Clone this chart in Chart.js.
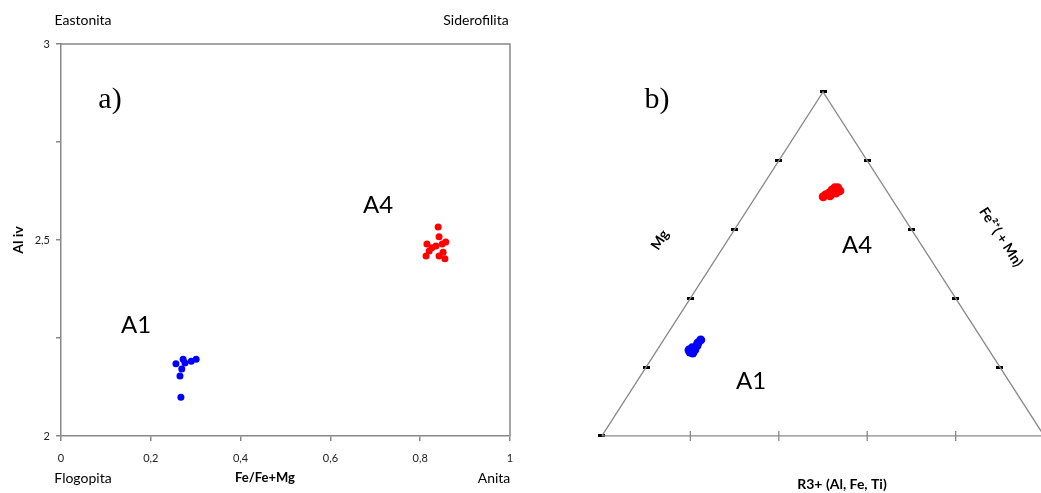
<!DOCTYPE html>
<html>
<head>
<meta charset="utf-8">
<script src="https://cdn.jsdelivr.net/npm/chart.js@4.4.1/dist/chart.umd.min.js"></script>
<style>
  html, body { margin: 0; padding: 0; background: #fff; }
  #wrap { position: relative; width: 1041px; height: 493px; overflow: hidden; }
  canvas { position: absolute; top: 0; }
  #chartA { left: 0; }
  #chartB { left: 540px; }
</style>
</head>
<body>
<div id="wrap">
  <canvas id="chartA" width="540" height="493"></canvas>
  <canvas id="chartB" width="501" height="493"></canvas>
</div>
<script>
// a) Al iv against Fe/(Fe+Mg)
const a1FeRatio = [0.256, 0.272, 0.276, 0.269, 0.265, 0.290, 0.301, 0.267];
const a1AlIv    = [2.184, 2.196, 2.186, 2.171, 2.153, 2.191, 2.196, 2.099];
const a4FeRatio = [0.840, 0.842, 0.815, 0.813, 0.826, 0.849, 0.857, 0.851, 0.855, 0.842, 0.820, 0.835];
const a4AlIv    = [2.533, 2.508, 2.490, 2.459, 2.480, 2.490, 2.495, 2.469, 2.452, 2.459, 2.472, 2.485];
const xTicks = [0, 0.2, 0.4, 0.6, 0.8, 1];
const yLabelTicks = [2, 2.5, 3];

// b) Mg - R3+ - Fe2+ proportions
const a1Mg = [0.679, 0.674, 0.665, 0.668, 0.654, 0.648, 0.637, 0.678];
const a1R3 = [0.077, 0.085, 0.085, 0.076, 0.084, 0.082, 0.084, 0.072];
const a1Fe = [0.244, 0.241, 0.250, 0.256, 0.262, 0.270, 0.279, 0.250];
const a4Mg = [0.152, 0.143, 0.133, 0.122, 0.113, 0.106, 0.106, 0.118, 0.135];
const a4R3 = [0.153, 0.156, 0.161, 0.163, 0.166, 0.173, 0.182, 0.176, 0.167];
const a4Fe = [0.695, 0.701, 0.706, 0.715, 0.721, 0.721, 0.712, 0.706, 0.698];
const ternTicks = [0, 0.2, 0.4, 0.6, 0.8, 1];

Chart.defaults.font.family = 'Lato';
Chart.defaults.color = '#222';

const AXIS_GREY = '#888';
const comma = v => String(Math.round(v * 100) / 100).replace('.', ',');

// free text drawn on top of a chart, coordinates in canvas pixels
const textPlugin = {
  id: 'texts',
  afterDraw(chart, args, opts) {
    const ctx = chart.ctx;
    (opts.items || []).forEach(t => {
      ctx.save();
      ctx.translate(t.x, t.y);
      if (t.rotate) ctx.rotate(t.rotate * Math.PI / 180);
      ctx.font = t.font;
      ctx.fillStyle = t.color || '#000';
      ctx.textAlign = 'center';
      ctx.textBaseline = 'middle';
      ctx.fillText(t.text, 0, 0);
      ctx.restore();
    });
  }
};

// closes the plot box on the top and right side
const framePlugin = {
  id: 'frame',
  beforeDatasetsDraw(chart) {
    const a = chart.chartArea, ctx = chart.ctx;
    ctx.save();
    ctx.strokeStyle = AXIS_GREY;
    ctx.lineWidth = 1.5;
    ctx.beginPath();
    ctx.moveTo(a.left, a.top);
    ctx.lineTo(a.right, a.top);
    ctx.lineTo(a.right, a.bottom);
    ctx.stroke();
    ctx.restore();
  }
};

const zip = (xs, ys) => xs.map((x, i) => ({ x: x, y: ys[i] }));

new Chart(document.getElementById('chartA'), {
  type: 'scatter',
  data: {
    datasets: [
      { label: 'A1', data: zip(a1FeRatio, a1AlIv), backgroundColor: '#0000ff', borderWidth: 0, pointRadius: 3.5 },
      { label: 'A4', data: zip(a4FeRatio, a4AlIv), backgroundColor: '#ff0000', borderWidth: 0, pointRadius: 3.5 }
    ]
  },
  options: {
    responsive: false,
    animation: false,
    layout: { autoPadding: false, padding: { top: 44, right: 30, left: 0, bottom: 0 } },
    scales: {
      x: {
        type: 'linear', min: 0, max: 1,
        afterBuildTicks: s => { s.ticks = xTicks.map(v => ({ value: v })); },
        afterFit: s => { s.height = 57; },
        ticks: { padding: 11, font: { size: 11 }, callback: v => comma(v) },
        grid: { drawOnChartArea: false, tickLength: 5, color: AXIS_GREY, lineWidth: 1.5 },
        border: { color: AXIS_GREY, width: 1.5 }
      },
      y: {
        type: 'linear', min: 2, max: 3,
        ticks: {
          stepSize: 0.25, padding: 6, font: { size: 11 },
          callback: v => yLabelTicks.includes(v) ? comma(v) : ''
        },
        afterFit: s => { s.width = 61; },
        grid: { drawOnChartArea: false, tickLength: 5, color: AXIS_GREY, lineWidth: 1.5 },
        border: { color: AXIS_GREY, width: 1.5 }
      }
    },
    plugins: {
      legend: { display: false },
      tooltip: { enabled: false },
      texts: {
        items: [
          { text: 'Eastonita', x: 83, y: 20, font: '14px Lato' },
          { text: 'Siderofilita', x: 476, y: 20, font: '14px Lato' },
          { text: 'Flogopita', x: 83, y: 478, font: '14px Lato' },
          { text: 'Anita', x: 494, y: 478, font: '14px Lato' },
          { text: 'Fe/Fe+Mg', x: 265, y: 478, font: 'bold 13px Lato' },
          { text: 'Al iv', x: 18, y: 240, rotate: -90, font: 'bold 14px Lato' },
          { text: 'a)', x: 110, y: 100, font: '30px "Liberation Serif"' },
          { text: 'A4', x: 378, y: 205, font: '24px Lato' },
          { text: 'A1', x: 136, y: 325, font: '24px Lato' }
        ]
      }
    }
  },
  plugins: [framePlugin, textPlugin]
});

// ternary position: Mg at bottom left, R3+ at bottom right, Fe2+ at the apex
function ternXY(mg, r3, fe) {
  const s = mg + r3 + fe;
  return { x: (r3 + fe / 2) / s, y: fe / s };
}
const ternPoints = (mg, r3, fe) => mg.map((m, i) => ternXY(m, r3[i], fe[i]));

const inner = ternTicks.slice(1, -1);
const sideTicks = ternTicks.map(t => ({ x: t / 2, y: t }))
  .concat(inner.map(t => ({ x: 1 - t / 2, y: t })));
const baseTicks = inner.map(t => ({ x: t, y: 0 }));

// small solid dash used as the tick mark on the triangle sides
const dash = document.createElement('canvas');
dash.width = 7;
dash.height = 3;
dash.getContext('2d').fillRect(0, 0, 7, 3);

new Chart(document.getElementById('chartB'), {
  type: 'scatter',
  data: {
    datasets: [
      {
        label: 'frame', showLine: true, pointRadius: 0, borderColor: AXIS_GREY, borderWidth: 1.3,
        data: [{ x: 0, y: 0 }, { x: 1, y: 0 }, { x: 0.5, y: 1 }, { x: 0, y: 0 }]
      },
      {
        label: 'base ticks', data: baseTicks, pointStyle: 'line', rotation: 90,
        pointRadius: 5, borderColor: AXIS_GREY, borderWidth: 1.3
      },
      { label: 'side ticks', data: sideTicks, pointStyle: dash, pointRadius: 4 },
      { label: 'A1', data: ternPoints(a1Mg, a1R3, a1Fe), backgroundColor: '#0000ff', borderWidth: 0, pointRadius: 4.5 },
      { label: 'A4', data: ternPoints(a4Mg, a4R3, a4Fe), backgroundColor: '#ff0000', borderWidth: 0, pointRadius: 4.5 }
    ]
  },
  options: {
    responsive: false,
    animation: false,
    layout: { autoPadding: false, padding: 0 },
    scales: {
      x: { type: 'linear', display: false, min: -0.14, max: 0.993 },
      y: { type: 'linear', display: false, min: -0.166, max: 1.267 }
    },
    plugins: {
      legend: { display: false },
      tooltip: { enabled: false },
      texts: {
        items: [
          { text: 'b)', x: 117, y: 100, font: '30px "Liberation Serif"' },
          { text: 'A4', x: 317, y: 245, font: '24px Lato' },
          { text: 'A1', x: 211, y: 381, font: '24px Lato' },
          { text: 'Mg', x: 120, y: 240, rotate: -57, font: 'bold 14px Lato' },
          { text: 'Fe²⁺( + Mn)', x: 461, y: 237, rotate: 57, font: 'bold 14px Lato' },
          { text: 'R3+ (Al, Fe, Ti)', x: 302, y: 484, font: 'bold 14px Lato' }
        ]
      }
    }
  },
  plugins: [textPlugin]
});
</script>
</body>
</html>
